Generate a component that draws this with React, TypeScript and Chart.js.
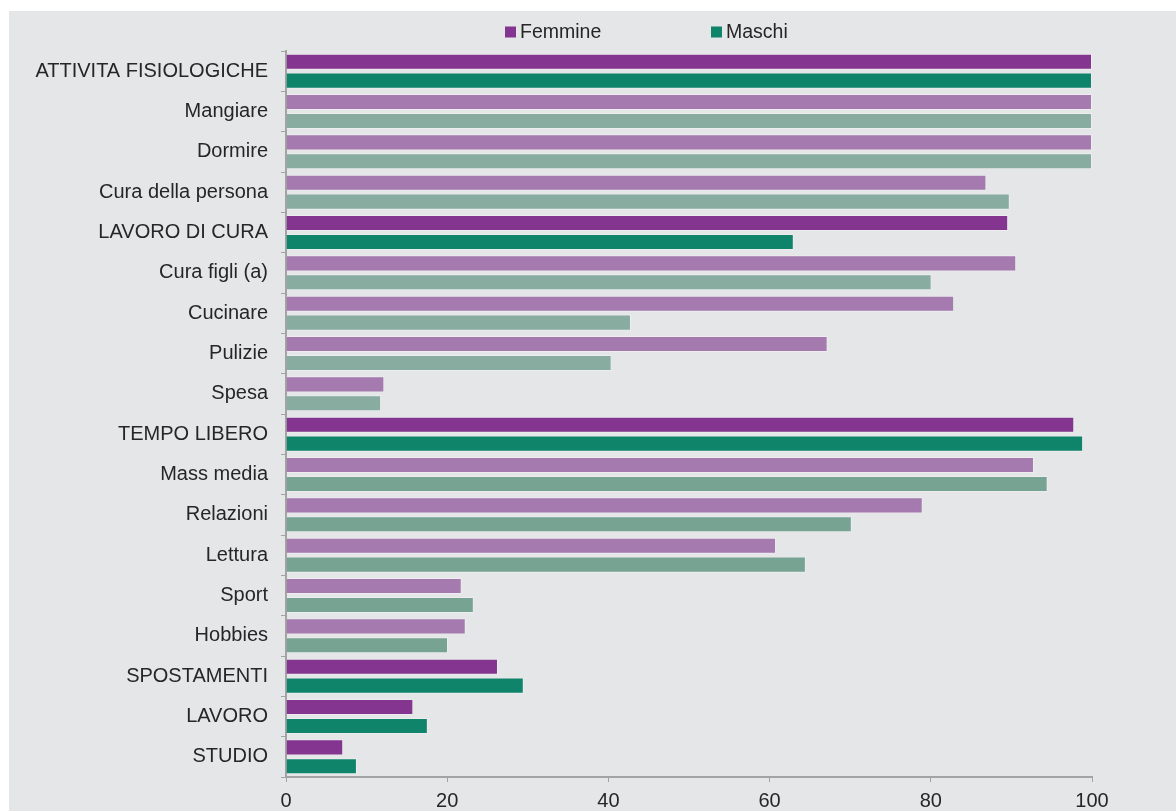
import React, { useEffect, useRef } from "react";
import { Chart, registerables } from "chart.js";

Chart.register(...registerables);

const categories = [
  "ATTIVITA FISIOLOGICHE",
  "Mangiare",
  "Dormire",
  "Cura della persona",
  "LAVORO DI CURA",
  "Cura figli (a)",
  "Cucinare",
  "Pulizie",
  "Spesa",
  "TEMPO LIBERO",
  "Mass media",
  "Relazioni",
  "Lettura",
  "Sport",
  "Hobbies",
  "SPOSTAMENTI",
  "LAVORO",
  "STUDIO",
];

const femmine = [100, 100, 100, 86.9, 89.6, 90.6, 82.9, 67.2, 12.2, 97.8, 92.8, 79.0, 60.8, 21.8, 22.3, 26.3, 15.8, 7.1];
const maschi = [100, 100, 100, 89.8, 63.0, 80.1, 42.8, 40.4, 11.8, 98.9, 94.5, 70.2, 64.5, 23.3, 20.1, 29.5, 17.6, 8.8];

// group of each category: 0 = main (dark), 1 = sub of first groups, 2 = sub of tempo libero
const groups = [0, 1, 1, 1, 0, 1, 1, 1, 1, 0, 2, 2, 2, 2, 2, 0, 0, 0];

const xTicks = [0, 20, 40, 60, 80, 100];

const PURPLE_DARK = "#84358f";
const PURPLE_LIGHT = "#a57aaf";
const GREEN_DARK = "#0f846b";
const GREEN_LIGHT = "#88ac9f";
const GREEN_LIGHT2 = "#77a393";
const AXIS = "#a3a3a3";
const TEXT = "#262626";
const FONT = "'Liberation Sans', Arial, sans-serif";

export default function App() {
  const ref = useRef<HTMLCanvasElement | null>(null);

  useEffect(() => {
    if (!ref.current) return;

    const legendPlugin = {
      id: "customLegend",
      afterDraw(chart: any) {
        const ctx = chart.ctx;
        const area = chart.chartArea;
        const offsets = [219, 425];
        ctx.save();
        ctx.font = `19.5px ${FONT}`;
        ctx.textBaseline = "middle";
        ctx.textAlign = "left";
        chart.data.datasets.forEach((ds: any, i: number) => {
          const x = area.left + offsets[i];
          const y = 21;
          ctx.fillStyle = ds.legendColor;
          ctx.fillRect(x, y - 5.5, 11, 11);
          ctx.fillStyle = TEXT;
          ctx.fillText(ds.label, x + 15, y + 1);
        });
        ctx.restore();
      },
    };

    const chart = new Chart(ref.current, {
      type: "bar",
      data: {
        labels: categories,
        datasets: [
          {
            label: "Femmine",
            data: femmine,
            legendColor: PURPLE_DARK,
            backgroundColor: groups.map((g) => (g === 0 ? PURPLE_DARK : PURPLE_LIGHT)),
            borderColor: "rgba(255,255,255,0.3)",
            borderWidth: 1,
            categoryPercentage: 0.94,
            barPercentage: 0.85,
          } as any,
          {
            label: "Maschi",
            data: maschi,
            legendColor: GREEN_DARK,
            backgroundColor: groups.map((g) => (g === 0 ? GREEN_DARK : g === 1 ? GREEN_LIGHT : GREEN_LIGHT2)),
            borderColor: "rgba(255,255,255,0.3)",
            borderWidth: 1,
            categoryPercentage: 0.94,
            barPercentage: 0.85,
          } as any,
        ],
      },
      options: {
        indexAxis: "y",
        responsive: false,
        maintainAspectRatio: false,
        animation: false,
        layout: { padding: { top: 40, right: 84, bottom: 0, left: 0 } },
        plugins: {
          legend: { display: false },
          tooltip: { enabled: false },
        },
        scales: {
          y: {
            type: "category",
            grid: {
              display: true,
              drawOnChartArea: false,
              drawTicks: true,
              tickLength: 5,
              color: AXIS,
              lineWidth: 1,
            },
            border: { display: true, color: AXIS, width: 2 },
            ticks: {
              color: TEXT,
              font: { size: 20, family: FONT },
              padding: 13,
              autoSkip: false,
            },
            afterFit(scale: any) {
              scale.width = 277;
            },
          },
          x: {
            type: "linear",
            min: 0,
            max: 100,
            afterBuildTicks(scale: any) {
              scale.ticks = xTicks.map((v) => ({ value: v }));
            },
            grid: {
              display: true,
              drawOnChartArea: false,
              drawTicks: true,
              tickLength: 5,
              color: AXIS,
              lineWidth: 1,
            },
            border: { display: true, color: AXIS, width: 2 },
            ticks: {
              color: TEXT,
              font: { size: 20, family: FONT },
              padding: 7,
              maxRotation: 0,
            },
            afterFit(scale: any) {
              scale.height = 34;
            },
          },
        },
      } as any,
      plugins: [legendPlugin],
    });

    return () => chart.destroy();
  }, []);

  return (
    <div
      style={{
        position: "absolute",
        left: 9,
        top: 11,
        width: 1167,
        height: 800,
        background: "#e5e6e8",
      }}
    >
      <canvas ref={ref} width={1167} height={800} style={{ display: "block", width: 1167, height: 800 }} />
    </div>
  );
}
